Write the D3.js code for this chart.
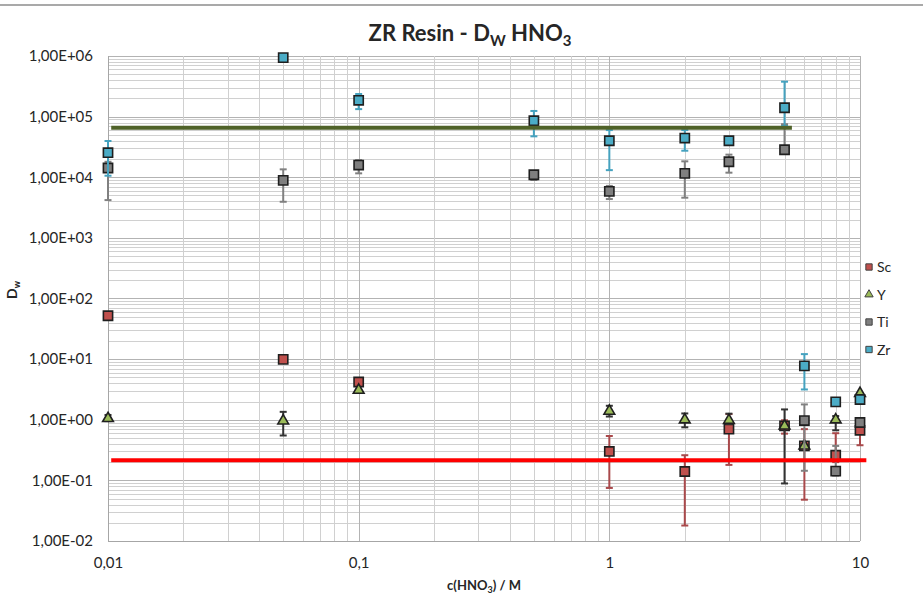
<!DOCTYPE html>
<html>
<head>
<meta charset="utf-8">
<script src="https://cdn.jsdelivr.net/npm/d3@7"></script>
<style>
  body { margin: 0; background: #fff; }
  text { font-family: Lato, "Open Sans", sans-serif; fill: #262626; }
  .grid-minor { stroke: #d0d0d0; stroke-width: 1; }
  .grid-major { stroke: #b3b3b3; stroke-width: 1; }
  .axis text { font-size: 15px; }
  .axis path, .axis line { display: none; }
</style>
</head>
<body>
<svg id="chart" width="923" height="610"></svg>
<script>
// concentrations HNO3 (M)
var conc = [0.01, 0.05, 0.1, 0.5, 1, 2, 3, 5, 6, 8, 10];

// Dw values per element (null = no point), with error bar low / high
var scVal = [51.9, 9.9, 4.2, null, 0.30, 0.14, 0.70, 0.79, 0.37, 0.26, 0.67];
var scLo  = [null, null, null, null, 0.075, 0.018, 0.18, 0.59, 0.048, 0.20, 0.38];
var scHi  = [null, null, null, null, 0.54, 0.26, 1.24, 0.98, 0.70, 0.60, 0.90];

var yVal = [1.05, 0.96, 3.08, null, 1.39, 1.0, 0.98, 0.79, 0.37, 1.0, 2.72];
var yLo  = [0.95, 0.55, null, null, 1.13, 0.75, 0.85, 0.089, null, 0.67, null];
var yHi  = [1.2, 1.35, null, null, 1.70, 1.27, 1.26, 1.48, null, 1.15, null];

var tiVal = [1.42e4, 8.9e3, 1.59e4, 1.10e4, 5.85e3, 1.16e4, 1.8e4, 2.84e4, 0.97, 0.142, 0.90];
var tiLo  = [4.2e3, 3.94e3, 1.16e4, 9.0e3, 4.37e3, 4.6e3, 1.19e4, 2.5e4, 0.144, 0.12, null];
var tiHi  = [1.8e4, 1.35e4, 1.92e4, 1.2e4, 7.2e3, 1.83e4, 2.36e4, 7.5e4, 1.79, 0.37, null];

var zrVal = [2.54e4, 9.4e5, 1.86e5, 8.57e4, 4.0e4, 4.43e4, 4.0e4, 1.40e5, 7.75, 1.97, 2.16];
var zrLo  = [1.06e4, null, 1.33e5, 4.73e4, 1.31e4, 2.74e4, null, 7.0e4, 3.16, 1.8, null];
var zrHi  = [3.96e4, null, 2.36e5, 1.24e5, 6.0e4, 6.0e4, null, 3.77e5, 12.1, 2.15, null];

// reference lines
var greenX = [0.0103, 5.35], greenY = 6.56e4;
var redX = [0.0103, 10.6], redY = 0.215;

var xTicks = [0.01, 0.1, 1, 10];
var yTicks = [1e-2, 1e-1, 1, 10, 100, 1e3, 1e4, 1e5, 1e6];

var series = [
  {name: "Sc", val: scVal, lo: scLo, hi: scHi, shape: "square", fill: "#c0504d", err: "#a9494b"},
  {name: "Y",  val: yVal,  lo: yLo,  hi: yHi,  shape: "triangle", fill: "#9bbb59", err: "#333333"},
  {name: "Ti", val: tiVal, lo: tiLo, hi: tiHi, shape: "square", fill: "#7f7f7f", err: "#808080"},
  {name: "Zr", val: zrVal, lo: zrLo, hi: zrHi, shape: "square", fill: "#4bacc6", err: "#45a2bf"}
];

var svg = d3.select("#chart");

var x = d3.scaleLog().domain([0.01, 10]).range([108, 860]);
var y = d3.scaleLog().domain([0.01, 1e6]).range([541, 56]);

var isMajor = function(v){ return Math.abs(Math.log10(v) - Math.round(Math.log10(v))) < 1e-9; };

// top border line
svg.append("line")
  .attr("x1", 0).attr("x2", 923).attr("y1", 5).attr("y2", 5)
  .attr("stroke", "#8c8c8c").attr("stroke-width", 1.5);

// grid
var grid = svg.append("g");
grid.selectAll(".gy")
  .data(y.ticks())
  .enter().append("line")
  .attr("class", function(d){ return isMajor(d) ? "grid-major" : "grid-minor"; })
  .attr("x1", x.range()[0]).attr("x2", x.range()[1])
  .attr("y1", function(d){ return Math.round(y(d)) + 0.5; })
  .attr("y2", function(d){ return Math.round(y(d)) + 0.5; });
grid.selectAll(".gx")
  .data(x.ticks())
  .enter().append("line")
  .attr("class", function(d){ return isMajor(d) ? "grid-major" : "grid-minor"; })
  .attr("y1", y.range()[0]).attr("y2", y.range()[1])
  .attr("x1", function(d){ return Math.round(x(d)) + 0.5; })
  .attr("x2", function(d){ return Math.round(x(d)) + 0.5; });

// axes
var fmtE = function(v){
  var e = Math.round(Math.log10(v));
  return "1,00E" + (e < 0 ? "-" : "+") + String(Math.abs(e)).padStart(2, "0");
};
svg.append("g")
  .attr("class", "axis")
  .attr("transform", "translate(" + x.range()[0] + ",0)")
  .call(d3.axisLeft(y).tickValues(yTicks).tickFormat(fmtE).tickSize(0).tickPadding(15));
svg.append("g")
  .attr("class", "axis")
  .attr("transform", "translate(0," + (y.range()[0] + 13) + ")")
  .call(d3.axisBottom(x).tickValues(xTicks).tickFormat(function(d){ return String(d).replace(".", ","); }).tickSize(0));

// axis lines (left / bottom)
svg.append("line").attr("x1", 108.5).attr("x2", 108.5).attr("y1", 56).attr("y2", 541)
  .attr("stroke", "#a6a6a6");
svg.append("line").attr("x1", 108).attr("x2", 860).attr("y1", 541.5).attr("y2", 541.5)
  .attr("stroke", "#a6a6a6");

// titles
var title = svg.append("text")
  .attr("x", 470).attr("y", 41)
  .attr("text-anchor", "middle")
  .style("font-size", "22px").style("font-weight", "bold");
title.append("tspan").text("ZR Resin - D");
title.append("tspan").attr("dy", 5).style("font-size", "15px").text("W");
title.append("tspan").attr("dy", -5).text(" HNO");
title.append("tspan").attr("dy", 5).style("font-size", "15px").text("3");

var xt = svg.append("text")
  .attr("x", 484).attr("y", 590)
  .attr("text-anchor", "middle")
  .style("font-size", "13px").style("font-weight", "bold");
xt.append("tspan").text("c(HNO");
xt.append("tspan").attr("dy", 3).style("font-size", "9px").text("3");
xt.append("tspan").attr("dy", -3).text(") / M");

var yt = svg.append("text")
  .attr("transform", "translate(17,290) rotate(-90)")
  .attr("text-anchor", "middle")
  .style("font-size", "14px").style("font-weight", "bold");
yt.append("tspan").text("D");
yt.append("tspan").attr("dy", 3).style("font-size", "9px").text("w");

// marker shapes
var sq = d3.symbol().type(d3.symbolSquare).size(85)();
var tri = d3.symbol().type(d3.symbolTriangle).size(50)();

// series
series.forEach(function(s){
  var pts = conc.map(function(c, i){
    return {x: c, v: s.val[i], lo: s.lo[i], hi: s.hi[i]};
  }).filter(function(d){ return d.v != null; });
  var g = svg.append("g").attr("class", "series-" + s.name);

  var bars = pts.filter(function(d){ return d.lo != null; });
  g.selectAll(".err")
    .data(bars).enter().append("line")
    .attr("x1", function(d){ return x(d.x); }).attr("x2", function(d){ return x(d.x); })
    .attr("y1", function(d){ return y(d.lo); }).attr("y2", function(d){ return y(d.hi); })
    .attr("stroke", s.err).attr("stroke-width", 2);
  ["lo", "hi"].forEach(function(k){
    g.selectAll(".cap-" + k)
      .data(bars).enter().append("line")
      .attr("x1", function(d){ return x(d.x) - 3.5; }).attr("x2", function(d){ return x(d.x) + 3.5; })
      .attr("y1", function(d){ return y(d[k]); }).attr("y2", function(d){ return y(d[k]); })
      .attr("stroke", s.err).attr("stroke-width", 2);
  });

  g.selectAll(".mk")
    .data(pts).enter().append("path")
    .attr("d", s.shape == "square" ? sq : tri)
    .attr("transform", function(d){ return "translate(" + x(d.x) + "," + y(d.v) + ")"; })
    .attr("fill", s.fill)
    .attr("stroke", "#1f1f1f").attr("stroke-width", 1.6);
});

// reference lines
var line = d3.line().x(function(d){ return x(d[0]); }).y(function(d){ return y(d[1]); });
svg.append("path")
  .attr("d", line(greenX.map(function(c){ return [c, greenY]; })))
  .attr("stroke", "#4f6228").attr("stroke-width", 4).attr("fill", "none");
svg.append("path")
  .attr("d", line(redX.map(function(c){ return [c, redY]; })))
  .attr("stroke", "#ff0000").attr("stroke-width", 4).attr("fill", "none");

// legend
var legend = svg.append("g").attr("transform", "translate(869,267)");
var items = legend.selectAll(".leg")
  .data(series).enter().append("g")
  .attr("transform", function(d, i){ return "translate(0," + (i * 27.5) + ")"; });
items.append("path")
  .attr("d", function(d){
    return d.shape == "square" ? d3.symbol().type(d3.symbolSquare).size(40)() : d3.symbol().type(d3.symbolTriangle).size(30)();
  })
  .attr("fill", function(d){ return d.fill; })
  .attr("stroke", "#404040").attr("stroke-width", 1);
items.append("text")
  .attr("x", 8).attr("y", 5)
  .style("font-size", "14px")
  .text(function(d){ return d.name; });
</script>
</body>
</html>
